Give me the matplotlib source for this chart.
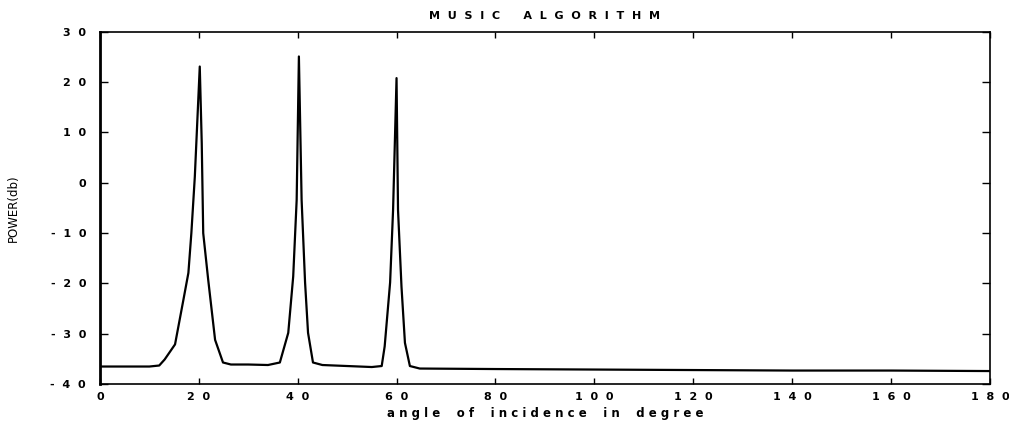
import matplotlib.pyplot as plt

# MUSIC pseudo-spectrum, sources at 20, 40 and 60 degrees
angle = [0, 5, 10, 12, 13.1, 15.2, 16.9, 17.9, 18.5, 19.2, 20.2, 20.6, 20.9,
         21.9, 23.3, 24.9, 26.5, 30, 34, 36.4, 38.1, 39.1, 39.8, 40.25, 40.8,
         41.5, 42.1, 43.1, 45, 50, 55, 57.0, 57.6, 58.7, 59.3, 60.0, 60.3,
         61.0, 61.7, 62.7, 64.7, 80, 100, 120, 140, 160, 180]
power_db = [-36.5, -36.5, -36.5, -36.3, -35.1, -32.1, -23.2, -17.9, -10.0, 1.2,
            23.1, 7.9, -10.0, -19.2, -31.2, -35.7, -36.1, -36.1, -36.2, -35.7,
            -29.8, -18.6, -3.4, 25.1, -3.4, -19.8, -29.8, -35.7, -36.2, -36.4,
            -36.6, -36.4, -32.5, -19.8, -5.4, 20.8, -5.4, -20.6, -31.8, -36.4,
            -36.9, -37.0, -37.1, -37.2, -37.3, -37.3, -37.4]

xticks = [0, 20, 40, 60, 80, 100, 120, 140, 160, 180]
yticks = [-40, -30, -20, -10, 0, 10, 20, 30]


def spaced(s, gap=' '):
    return gap.join(s)


fig = plt.figure(figsize=(10.09, 4.24), dpi=100)
ax = fig.add_axes([0.099, 0.094, 0.882, 0.831])
ax.plot(angle, power_db, color='black', linewidth=1.6)

ax.set_xlim(0, 180)
ax.set_ylim(-40, 30)
ax.set_xticks(xticks)
ax.set_yticks(yticks)
ax.set_xticklabels([spaced(str(t), '  ') for t in xticks], fontsize=8, fontweight='bold')
ax.set_yticklabels([spaced(str(t), '  ') for t in yticks], fontsize=8, fontweight='bold')
ax.tick_params(axis='y', direction='in', length=6, width=1, right=True, pad=10)
ax.tick_params(axis='x', direction='in', length=4, width=1, top=True, pad=6)
for side in ax.spines.values():
    side.set_linewidth(1.2)
ax.spines['left'].set_linewidth(2)

ax.set_title(spaced('MUSIC', '  ') + '      ' + spaced('ALGORITHM', '  '), fontsize=8,
             fontweight='bold', pad=9)
ax.set_xlabel('    '.join(spaced(w) for w in 'angle of incidence in degree'.split()),
              fontsize=8.5, fontweight='bold', labelpad=3)
ax.set_ylabel('POWER(db)', fontsize=8.5, labelpad=22)

fig.savefig('out.png', dpi=100, facecolor='white')
